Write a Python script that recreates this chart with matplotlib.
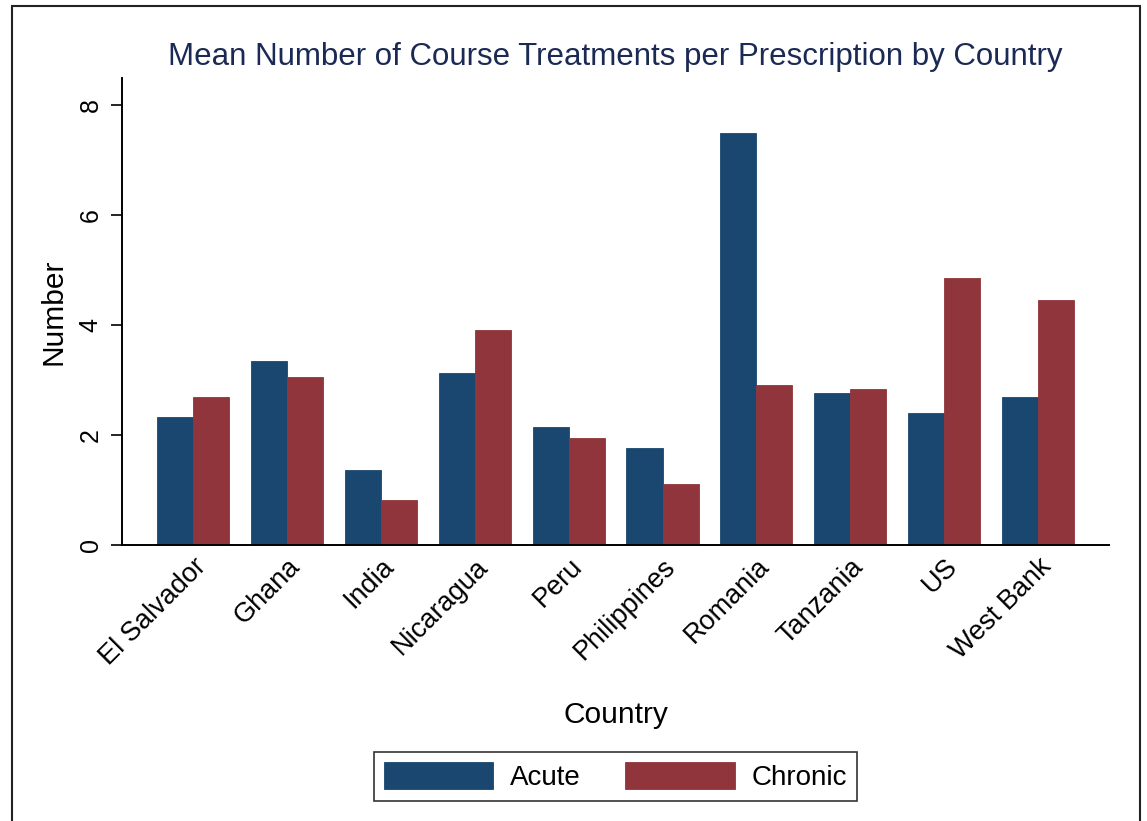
import matplotlib.pyplot as plt
import matplotlib.patches as mpatches
import numpy as np

plt.rcParams['font.family'] = ['Liberation Sans', 'DejaVu Sans']

countries = ['El Salvador', 'Ghana', 'India', 'Nicaragua', 'Peru',
             'Philippines', 'Romania', 'Tanzania', 'US', 'West Bank']
acute = [2.33, 3.35, 1.37, 3.13, 2.15, 1.77, 7.50, 2.77, 2.40, 2.70]
chronic = [2.70, 3.06, 0.82, 3.92, 1.95, 1.11, 2.91, 2.84, 4.86, 4.46]
yticks = [0, 2, 4, 6, 8]

navy = '#1a476f'
maroon = '#90353b'

fig = plt.figure(figsize=(11.47, 8.21), dpi=100)
ax = fig.add_axes([0.1064, 0.336, 0.8606, 0.569])

x = np.arange(len(countries))
w = 0.385
ax.bar(x - w/2, acute, width=w, color=navy, edgecolor=navy, linewidth=0.6, label='Acute')
ax.bar(x + w/2, chronic, width=w, color=maroon, edgecolor=maroon, linewidth=0.6, label='Chronic')

ax.set_xlim(-0.76, 9.76)
ax.set_ylim(0, 8.5)
ax.set_yticks(yticks)
ax.set_yticklabels([str(t) for t in yticks], rotation=90, va='center', fontsize=18)
ax.tick_params(axis='y', length=8, width=1.2, pad=6)
ax.set_xticks(x)
ax.set_xticklabels(countries, rotation=45, ha='right', rotation_mode='anchor', fontsize=19.5)
ax.tick_params(axis='x', length=0, pad=6)

for s in ['top', 'right']:
    ax.spines[s].set_visible(False)
for s in ['left', 'bottom']:
    ax.spines[s].set_linewidth(1.4)

ax.set_ylabel('Number', fontsize=21.5, labelpad=8)
ax.set_xlabel('Country', fontsize=21.5, labelpad=22)
ax.set_title('Mean Number of Course Treatments per Prescription by Country',
             fontsize=22.5, color='#1a2a55', pad=9)

leg = fig.legend(loc='center', bbox_to_anchor=(0.5365, 0.0545), ncol=2, fontsize=20,
                 frameon=True, fancybox=False, edgecolor='black',
                 handlelength=3.95, handleheight=1.15, columnspacing=1.6,
                 borderpad=0.35, handletextpad=0.6)
leg.get_frame().set_linewidth(1.2)

fig.patches.append(mpatches.Rectangle((0.0105, -0.01), 0.983, 1.003, transform=fig.transFigure,
                                      fill=False, edgecolor='#222222', linewidth=1.5))

fig.savefig('out.png', dpi=100)
